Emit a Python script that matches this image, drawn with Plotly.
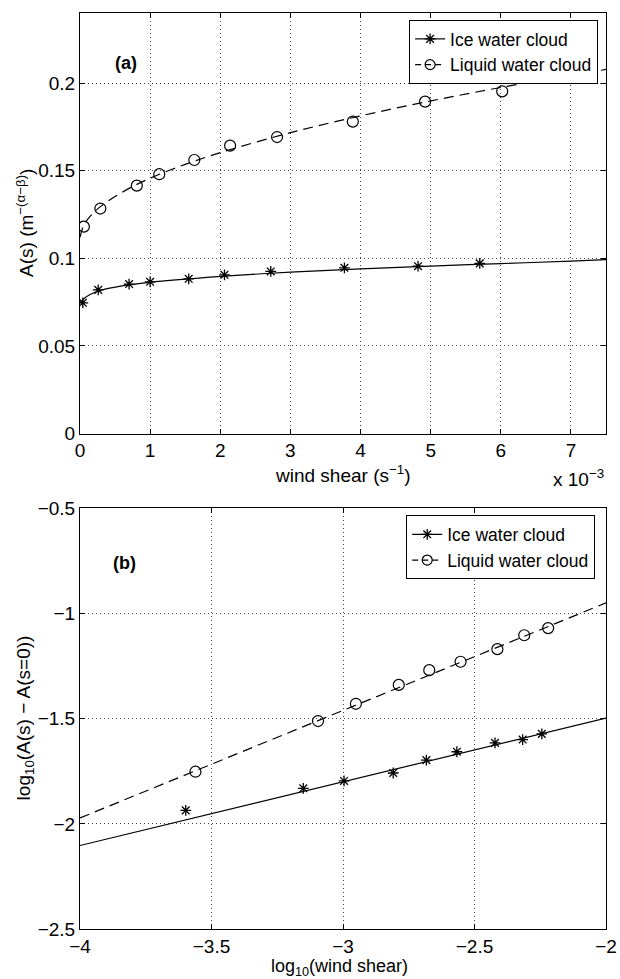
import plotly.graph_objects as go

# ---------------- Panel (a) data (wind shear in units of 1e-3 s^-1) ----------------
ice_a_x = [0.04, 0.26, 0.70, 1.00, 1.55, 2.06, 2.72, 3.77, 4.82, 5.70]
ice_a_y = [0.0746, 0.0820, 0.0853, 0.0866, 0.0883, 0.0906, 0.0925, 0.0946, 0.0955, 0.0971]
liq_a_x = [0.055, 0.29, 0.81, 1.13, 1.63, 2.14, 2.81, 3.89, 4.92, 6.02]
liq_a_y = [0.1181, 0.1284, 0.1415, 0.1480, 0.1561, 0.1643, 0.1692, 0.1780, 0.1894, 0.1953]

# fitted curves
fit_a_x = [0, 0.05, 0.15, 0.3, 0.6, 1, 1.5, 2, 3, 4, 5, 6, 7, 7.5]
ice_fit_a_y = [0.0745, 0.0768, 0.0795, 0.0818, 0.0843, 0.0863, 0.0881, 0.0897, 0.0921,
               0.0940, 0.0956, 0.0970, 0.0984, 0.0992]
liq_fit_a_y = [0.112, 0.1185, 0.1242, 0.1298, 0.1377, 0.1457, 0.1536, 0.1603, 0.1717,
               0.1813, 0.1898, 0.1975, 0.2045, 0.2078]

# ---------------- Panel (b) data ----------------
ice_b_x = [-3.598, -3.151, -2.996, -2.809, -2.683, -2.567, -2.422, -2.317, -2.244]
ice_b_y = [-1.936, -1.831, -1.796, -1.758, -1.697, -1.657, -1.615, -1.599, -1.572]
liq_b_x = [-3.561, -3.095, -2.951, -2.788, -2.672, -2.553, -2.413, -2.311, -2.220]
liq_b_y = [-1.752, -1.511, -1.429, -1.339, -1.269, -1.229, -1.169, -1.103, -1.069]

fit_b_x = [-4, -2]
ice_fit_b_y = [-2.103, -1.497]
liq_fit_b_y = [-1.972, -0.949]

series_names = ["Ice water cloud", "Liquid water cloud"]

FONT = "Liberation Sans, Arial, Helvetica, sans-serif"
FS = 19
LFS = 17.5
DASH = "10px,6px"
LW = 1.2

fig = go.Figure()

def add_panel(xa, ya, legend, ice_x, ice_y, liq_x, liq_y, fx, ice_fy, liq_fy, shape):
    fig.add_trace(go.Scatter(x=fx, y=ice_fy, mode="lines", line=dict(color="black", width=LW, shape=shape),
                             xaxis=xa, yaxis=ya, showlegend=False, hoverinfo="skip"))
    fig.add_trace(go.Scatter(x=fx, y=liq_fy, mode="lines",
                             line=dict(color="black", width=LW, dash=DASH, shape=shape),
                             xaxis=xa, yaxis=ya, showlegend=False, hoverinfo="skip"))
    fig.add_trace(go.Scatter(x=ice_x, y=ice_y, mode="markers",
                             marker=dict(symbol="asterisk-open", size=9, color="black",
                                         line=dict(color="black", width=1.3)),
                             xaxis=xa, yaxis=ya, showlegend=False))
    fig.add_trace(go.Scatter(x=liq_x, y=liq_y, mode="markers",
                             marker=dict(symbol="circle-open", size=11, color="black",
                                         line=dict(color="black", width=1.2)),
                             xaxis=xa, yaxis=ya, showlegend=False))
    fig.add_trace(go.Scatter(x=[None], y=[None], mode="lines+markers", name=series_names[0],
                             line=dict(color="black", width=LW),
                             marker=dict(symbol="asterisk-open", size=9, color="black",
                                         line=dict(color="black", width=1.3)),
                             xaxis=xa, yaxis=ya, legend=legend, showlegend=True))
    fig.add_trace(go.Scatter(x=[None], y=[None], mode="lines+markers", name=series_names[1],
                             line=dict(color="black", width=LW, dash="6px,4px"),
                             marker=dict(symbol="circle-open", size=10, color="black",
                                         line=dict(color="black", width=1.2)),
                             xaxis=xa, yaxis=ya, legend=legend, showlegend=True))

add_panel("x", "y", "legend", ice_a_x, ice_a_y, liq_a_x, liq_a_y,
          fit_a_x, ice_fit_a_y, liq_fit_a_y, "spline")
add_panel("x2", "y2", "legend2", ice_b_x, ice_b_y, liq_b_x, liq_b_y,
          fit_b_x, ice_fit_b_y, liq_fit_b_y, "linear")

axis_common = dict(showline=True, linecolor="black", linewidth=1, mirror="ticks",
                   ticks="inside", ticklen=5, tickcolor="black", tickwidth=1,
                   showgrid=True, gridcolor="#444", gridwidth=1, griddash="1px,3px",
                   zeroline=False, ticklabeloverflow="allow",
                   tickfont=dict(family=FONT, size=FS, color="black"))

legend_common = dict(xanchor="right", yanchor="top", bgcolor="white",
                     bordercolor="black", borderwidth=1,
                     font=dict(family=FONT, size=LFS, color="black"),
                     itemwidth=30, tracegroupgap=0)

BOT = 929  # pixel row of the lower plot's bottom edge
H = 979.0 - 12 - (979 - BOT)  # paper height in px

def py(px):
    return (BOT - px) / H

def pxx(px):
    return (px - 80) / 537.0

fig.update_layout(
    width=620, height=979, autosize=False,
    margin=dict(l=80, r=3, t=12, b=979 - BOT),
    paper_bgcolor="white", plot_bgcolor="white",
    font=dict(family=FONT, size=FS, color="black"),
    xaxis=dict(domain=[0, 1], anchor="y", range=[0, 7.5], dtick=1, tick0=0, **axis_common),
    yaxis=dict(domain=[py(433), 1], anchor="x", range=[0, 0.24], dtick=0.05, tick0=0, **axis_common),
    xaxis2=dict(domain=[0, 1], anchor="y2", range=[-4, -2], dtick=0.5, tick0=-4, **axis_common),
    yaxis2=dict(domain=[0, py(508)], anchor="x2", range=[-2.5, -0.5], dtick=0.5, tick0=-2.5, **axis_common),
    legend=dict(x=0.985, y=py(19), **legend_common),
    legend2=dict(x=0.9795, y=py(515), **legend_common),
    showlegend=True,
)

annots = [
    dict(text="<b>(a)</b>", x=0.063, y=0.91, xref="x domain", yref="y domain", showarrow=False,
         font=dict(size=18)),
    dict(text="<b>(b)</b>", x=0.058, y=0.90, xref="x2 domain", yref="y2 domain", showarrow=False,
         font=dict(size=18)),
    dict(text="wind shear (s<sup>−1</sup>)", x=pxx(348), y=py(474), xref="paper", yref="paper",
         showarrow=False, xanchor="center", yanchor="middle", font=dict(size=FS)),
    dict(text="x 10<sup>−3</sup>", x=pxx(617), y=py(478), xref="paper", yref="paper",
         showarrow=False, xanchor="right", yanchor="middle", font=dict(size=FS)),
    dict(text="log<sub>10</sub>(wind shear)", x=pxx(345), y=py(968), xref="paper", yref="paper",
         showarrow=False, xanchor="center", yanchor="middle", font=dict(size=18)),
    dict(text="A(s) (m<sup>−(α−β)</sup>)", x=pxx(24), y=py(222), xref="paper", yref="paper",
         showarrow=False, xanchor="center", yanchor="middle", textangle=-90, font=dict(size=FS)),
    dict(text="log<sub>10</sub>(A(s) − A(s=0))", x=pxx(24), y=py(718), xref="paper", yref="paper",
         showarrow=False, xanchor="center", yanchor="middle", textangle=-90, font=dict(size=FS)),
]
fig.update_layout(annotations=annots)

fig.write_html("out.html", config={"displayModeBar": False, "responsive": False},
               post_script="document.body.style.margin='0';document.body.style.overflow='hidden';")
